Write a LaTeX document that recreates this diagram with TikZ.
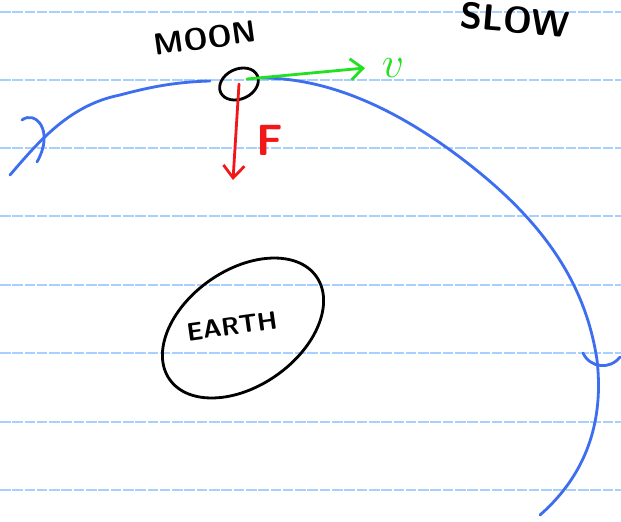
\documentclass[tikz,border=0pt]{standalone}
\usepackage{tikz}
\usetikzlibrary{arrows.meta, positioning, calc, shapes.geometric}
\definecolor{mOrbit}{HTML}{3D6EF0}
\definecolor{mLine}{HTML}{A8D0FF}
\definecolor{mVel}{HTML}{22E022}
\definecolor{mForce}{HTML}{F01818}

\begin{document}
\begin{tikzpicture}[x=0.02cm, y=-0.02cm,
      ink/.style={line width=1.6pt, line cap=round, line join=round},
      lbl/.style={font=\sffamily\LARGE\bfseries}]
    \useasboundingbox (0,0) rectangle (621,521);
    \fill[white] (0,0) rectangle (621,521);
    % ruled paper
    \foreach \y in {12,80,148,216,285,353,422,490}
      \draw[mLine, line width=0.6pt, dash pattern=on 6pt off 1pt] (0,\y) -- (621,\y);
    % orbit
    \draw[ink, mOrbit] (10,175) .. controls (40,140) and (70,105) .. (120,95)
      .. controls (150,87) and (175,82) .. (210,81);
    \draw[ink, mOrbit] (262,78) .. controls (330,78) and (400,110) .. (470,165)
      .. controls (540,220) and (585,280) .. (597,360)
      .. controls (605,430) and (580,480) .. (540,515);
    \draw[ink, mOrbit] (22,120) .. controls (35,110) and (55,130) .. (37,162);
    \draw[ink, mOrbit] (583,353) .. controls (590,368) and (610,370) .. (620,357);
    % moon and earth
    \node[ink, draw, ellipse, rotate=25, minimum width=23pt, minimum height=17pt,
          inner sep=0pt] (moon) at (239,84) {};
    \node[lbl, rotate=8] (moonlbl) at (205,38) {MOON};
    \node[lbl, rotate=-5, font=\sffamily\huge\bfseries] (slow) at (515,20) {SLOW};
    \node[ink, draw, ellipse, rotate=35, minimum width=102pt, minimum height=66pt,
          inner sep=0pt] (earth) at (243,328) {};
    \node[lbl, rotate=8, font=\sffamily\Large\bfseries] (earthlbl) at (232,326) {EARTH};
    % velocity and force
    \coordinate (vtip) at (365,68);
    \coordinate (ftip) at (233,180);
    \draw[ink, mVel, -{Straight Barb[length=7pt, width=12pt]}] (moon.center) ++(8,-5) -- (vtip);
    \node[mVel, font=\Huge\bfseries, right=6pt of vtip] (vlbl) {$v$};
    \draw[ink, mForce, -{Straight Barb[length=7pt, width=12pt]}] (moon.center) -- (ftip);
    \node[mForce, font=\sffamily\Huge\bfseries] (flbl) at (270,140) {F};
\end{tikzpicture}
\end{document}
